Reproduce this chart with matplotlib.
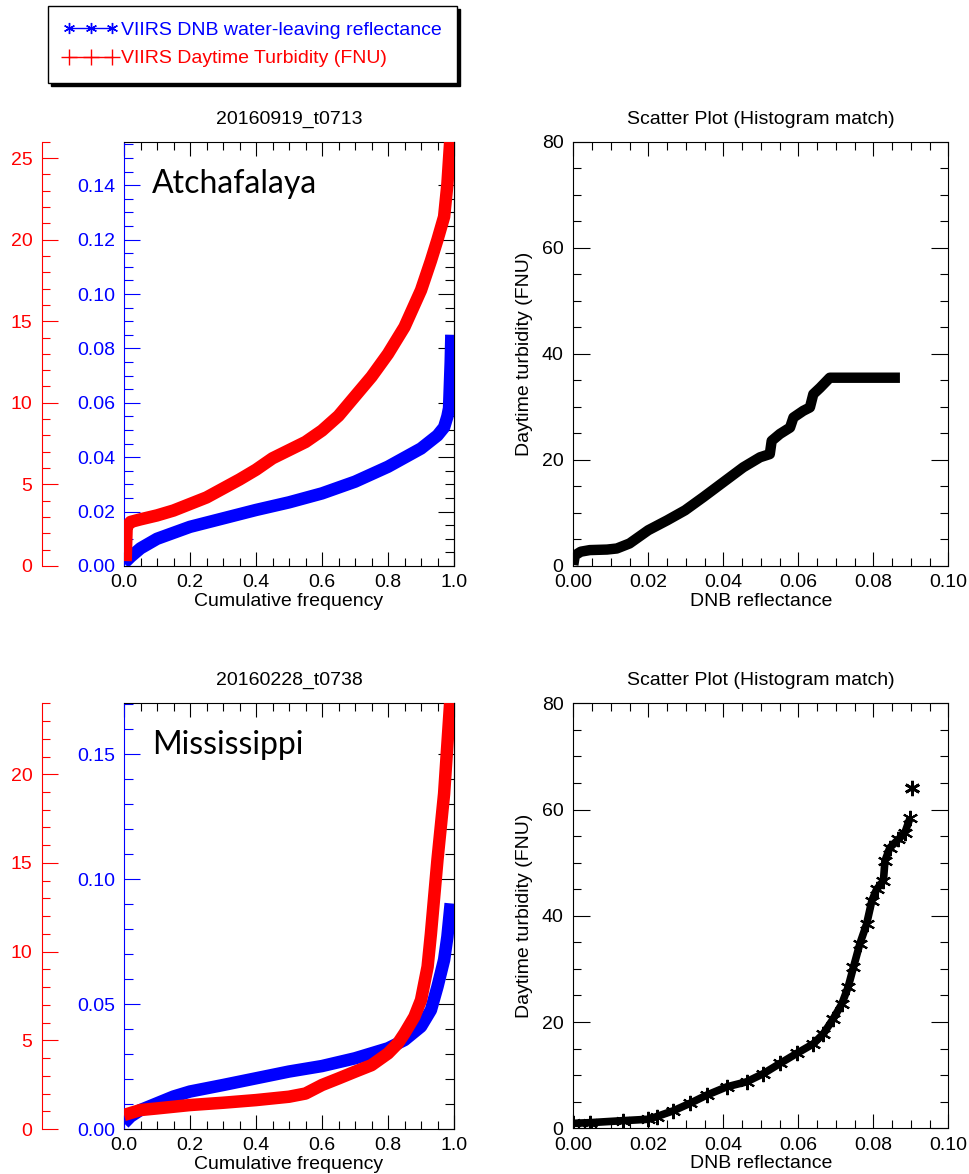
import numpy as np
import matplotlib
matplotlib.use('Agg')
import matplotlib.pyplot as plt
from matplotlib.ticker import MultipleLocator, FormatStrFormatter
from matplotlib.lines import Line2D

plt.rcParams['font.family'] = ['Liberation Sans', 'DejaVu Sans']
plt.rcParams['font.size'] = 14

BLUE = '#0000ff'
RED = '#ff0000'

# ---- Atchafalaya, 20160919_t0713 ----
atch_title = '20160919_t0713'
atch_freq_dnb = [0.0, 0.02, 0.05, 0.1, 0.2, 0.3, 0.4, 0.5, 0.6, 0.7, 0.8, 0.9, 0.95, 0.97, 0.98, 0.985, 0.99, 0.992]
atch_dnb = [0.001, 0.0034, 0.0065, 0.010, 0.0144, 0.0175, 0.0206, 0.0234, 0.0267, 0.031, 0.0365, 0.0432, 0.048,
            0.051, 0.055, 0.058, 0.075, 0.085]
atch_freq_turb = [0.005, 0.008, 0.02, 0.05, 0.1, 0.15, 0.2, 0.25, 0.3, 0.35, 0.4, 0.45, 0.5, 0.55, 0.6, 0.65, 0.7,
                  0.75, 0.8, 0.85, 0.9, 0.93, 0.95, 0.97, 0.98, 0.99]
atch_turb = [0.3, 2.4, 2.7, 2.86, 3.1, 3.4, 3.8, 4.2, 4.75, 5.3, 5.9, 6.6, 7.1, 7.6, 8.3, 9.2, 10.4, 11.6, 13.0, 14.65,
             16.9, 18.7, 20.0, 21.4, 23.4, 26.5]
atch_sc_dnb = [0.0, 0.0004, 0.002, 0.0044, 0.009, 0.0116, 0.015, 0.02, 0.025, 0.0298, 0.0347, 0.04, 0.0453, 0.0498,
               0.0524, 0.0529, 0.0551, 0.0578, 0.0587, 0.0613, 0.0631, 0.064, 0.0658, 0.0684, 0.0871]
atch_sc_turb = [0.2, 2.0, 2.7, 3.0, 3.1, 3.3, 4.25, 6.75, 8.6, 10.5, 13.0, 15.8, 18.6, 20.5, 21.1, 23.6, 24.9, 26.1,
                28.0, 29.25, 29.9, 32.4, 33.6, 35.5, 35.5]

# ---- Mississippi, 20160228_t0738 ----
miss_title = '20160228_t0738'
miss_freq_dnb = [0.0, 0.02, 0.05, 0.1, 0.15, 0.2, 0.3, 0.4, 0.5, 0.6, 0.7, 0.8, 0.85, 0.9, 0.93, 0.95, 0.97, 0.98,
                 0.99]
miss_dnb = [0.0023, 0.005, 0.0076, 0.0103, 0.013, 0.015, 0.0176, 0.0203, 0.023, 0.0252, 0.0283, 0.0323, 0.0356,
            0.041, 0.0476, 0.057, 0.0677, 0.077, 0.0903]
miss_freq_turb = [0.0, 0.05, 0.1, 0.2, 0.3, 0.4, 0.5, 0.55, 0.6, 0.65, 0.7, 0.75, 0.8, 0.83, 0.85, 0.88, 0.9, 0.92,
                  0.93, 0.95, 0.97, 0.98, 0.99]
miss_turb = [0.79, 1.07, 1.16, 1.35, 1.48, 1.63, 1.82, 2.0, 2.48, 2.85, 3.23, 3.6, 4.26, 4.83, 5.39, 6.33, 7.27, 9.15,
             11.0, 15.2, 18.9, 21.7, 24.5]
miss_sc_dnb = [0.0, 0.0044, 0.0133, 0.02, 0.0222, 0.0267, 0.0311, 0.0356, 0.0409, 0.0462, 0.0507, 0.0551, 0.0596,
               0.064, 0.0667, 0.0693, 0.0716, 0.0733, 0.0747, 0.0764, 0.0782, 0.0796, 0.0809, 0.0827, 0.0831,
               0.0844, 0.0867, 0.0884, 0.0898]
miss_sc_turb = [0.94, 1.06, 1.44, 1.7, 2.2, 3.3, 4.7, 6.25, 7.8, 8.75, 10.3, 12.2, 14.1, 15.9, 17.8, 20.6, 23.4, 26.6,
                30.3, 34.7, 38.4, 42.8, 45.0, 46.6, 50.3, 52.8, 54.4, 55.6, 58.4]
miss_outlier_dnb = [0.0902]
miss_outlier_turb = [64.0]

region_names = ['Atchafalaya', 'Mississippi']
legend_labels = ['VIIRS DNB water-leaving reflectance', 'VIIRS Daytime Turbidity (FNU)']

W, H = 969, 1174
fig = plt.figure(figsize=(W / 100, H / 100), dpi=100)


def px_axes(x0, y0, x1, y1):
    return fig.add_axes([x0 / W, 1 - y1 / H, (x1 - x0) / W, (y1 - y0) / H])


def cdf_panel(rect, title, name, fd, dnb, ft, turb, dnb_max, dnb_major, dnb_minor, turb_max):
    ax = px_axes(*rect)
    ax.plot(fd, dnb, color=BLUE, lw=9, solid_capstyle='butt', solid_joinstyle='round', zorder=3)
    ax.set_xlim(0, 1)
    ax.set_ylim(0, dnb_max)
    ax.xaxis.set_major_locator(MultipleLocator(0.2))
    ax.xaxis.set_minor_locator(MultipleLocator(0.05))
    ax.xaxis.set_major_formatter(FormatStrFormatter('%.1f'))
    ax.yaxis.set_major_locator(MultipleLocator(dnb_major))
    ax.yaxis.set_minor_locator(MultipleLocator(dnb_minor))
    ax.yaxis.set_major_formatter(FormatStrFormatter('%.2f'))
    ax.tick_params(axis='x', which='both', direction='in', top=True, bottom=True, pad=6, width=0.8)
    ax.tick_params(axis='x', which='major', length=10)
    ax.tick_params(axis='x', which='minor', length=5.5)
    ax.tick_params(axis='y', which='both', direction='in', left=True, right=False, colors=BLUE, pad=6, width=0.8)
    ax.tick_params(axis='y', which='major', length=11.5)
    ax.tick_params(axis='y', which='minor', length=6.5)
    ax.spines['left'].set_color(BLUE)
    ax.set_xlabel('Cumulative frequency', labelpad=1)
    ax.set_title(title, pad=13, fontsize=14)
    ax.text(0.085, 0.88, name, transform=ax.transAxes, family=['Lato', 'DejaVu Sans'], fontsize=23,
            va='baseline', ha='left')

    # black mirrored ticks on the right side
    sec = ax.secondary_yaxis('right')
    sec.yaxis.set_major_locator(MultipleLocator(dnb_major))
    sec.yaxis.set_minor_locator(MultipleLocator(dnb_minor))
    sec.tick_params(which='both', direction='in', labelright=False, width=0.8)
    sec.tick_params(which='major', length=11.5)
    sec.tick_params(which='minor', length=6.5)

    # red turbidity axis, offset to the left
    axr = ax.twinx()
    axr.plot(ft, turb, color=RED, lw=9, solid_capstyle='butt', solid_joinstyle='round', zorder=4)
    axr.set_ylim(0, turb_max)
    axr.yaxis.set_ticks_position('left')
    axr.spines['left'].set_position(('axes', -82 / 330))
    axr.spines['left'].set_color(RED)
    for s in ['top', 'bottom', 'right']:
        axr.spines[s].set_visible(False)
    axr.yaxis.set_major_locator(MultipleLocator(5))
    axr.yaxis.set_minor_locator(MultipleLocator(1))
    axr.tick_params(axis='y', which='both', direction='in', colors=RED, pad=7, width=0.8)
    axr.tick_params(axis='y', which='major', length=11.5)
    axr.tick_params(axis='y', which='minor', length=6)
    axr.set_xlim(0, 1)
    return ax


def scatter_panel(rect, x, y, out_x=None, out_y=None, stars=False):
    ax = px_axes(*rect)
    if stars:
        ax.plot(x, y, color='black', lw=5.5, marker=(6, 2, 0), ms=11, mew=1.5, solid_capstyle='butt',
                solid_joinstyle='round')
    else:
        ax.plot(x, y, color='black', lw=7.5, solid_capstyle='butt', solid_joinstyle='round')
    if out_x is not None:
        ax.plot(out_x, out_y, ls='none', color='black', marker=(6, 2, 0), ms=11, mew=2)
    ax.set_xlim(0, 0.10)
    ax.set_ylim(0, 80)
    ax.xaxis.set_major_locator(MultipleLocator(0.02))
    ax.xaxis.set_minor_locator(MultipleLocator(0.005))
    ax.xaxis.set_major_formatter(FormatStrFormatter('%.2f'))
    ax.yaxis.set_major_locator(MultipleLocator(20))
    ax.yaxis.set_minor_locator(MultipleLocator(5))
    ax.tick_params(which='both', direction='in', top=True, right=True, width=0.8)
    ax.tick_params(axis='x', which='both', pad=6)
    ax.tick_params(axis='y', which='both', pad=7)
    ax.tick_params(axis='x', which='major', length=10)
    ax.tick_params(axis='x', which='minor', length=5.5)
    ax.tick_params(axis='y', which='major', length=12)
    ax.tick_params(axis='y', which='minor', length=6)
    ax.set_xlabel('DNB reflectance', labelpad=1)
    ax.set_ylabel('Daytime turbidity (FNU)', labelpad=6)
    ax.set_title('Scatter Plot (Histogram match)', pad=13, fontsize=14)
    return ax


cdf_panel((124, 141.7, 454, 566), atch_title, region_names[0], atch_freq_dnb, atch_dnb, atch_freq_turb,
          atch_turb, 0.156, 0.02, 0.005, 26)
scatter_panel((573.3, 141.7, 948.3, 566), atch_sc_dnb, atch_sc_turb)

cdf_panel((124, 703.3, 454, 1129), miss_title, region_names[1], miss_freq_dnb, miss_dnb, miss_freq_turb,
          miss_turb, 0.1704, 0.05, 0.01, 24)
scatter_panel((573.3, 703.3, 948.3, 1128.3), miss_sc_dnb, miss_sc_turb, miss_outlier_dnb, miss_outlier_turb,
              stars=True)

handles = [Line2D([], [], color=BLUE, lw=1, marker=(6, 2, 0), ms=8, mew=1),
           Line2D([], [], color=RED, lw=1, marker='+', ms=11, mew=1)]
leg = fig.legend(handles, legend_labels, loc='upper left', bbox_to_anchor=(48 / W, 1 - 6 / H),
                 borderaxespad=0, numpoints=3, handlelength=2.8, handletextpad=0.15, borderpad=0.8,
                 labelspacing=0.55, fancybox=False, framealpha=1, edgecolor='black', labelcolor='linecolor',
                 shadow={'color': 'black', 'alpha': 1})
leg.get_frame().set_linewidth(1)

fig.savefig('out.png', dpi=100)
